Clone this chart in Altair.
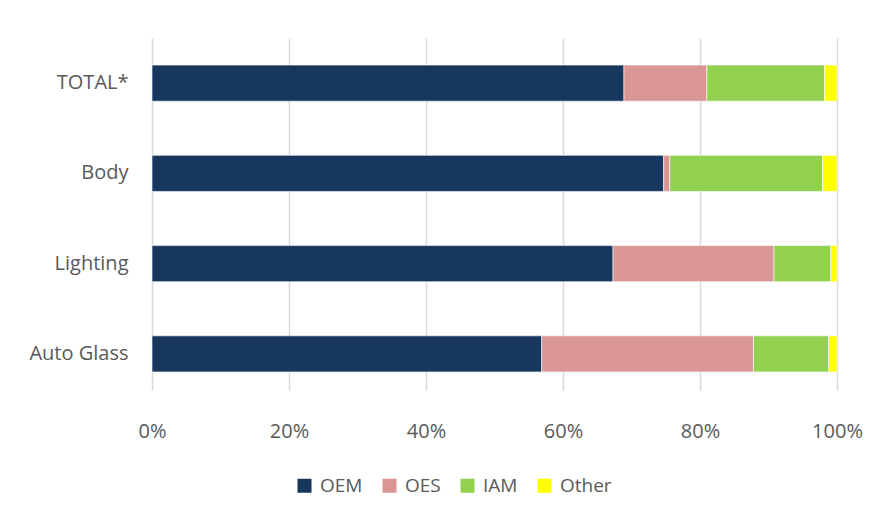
import altair as alt
import pandas as pd

categories = ["TOTAL*", "Body", "Lighting", "Auto Glass"]
series = ["OEM", "OES", "IAM", "Other"]
oem = [68.9, 74.7, 67.3, 56.9]
oes = [12.1, 0.9, 23.5, 30.9]
iam = [17.2, 22.3, 8.3, 11.0]
other = [1.8, 2.1, 0.9, 1.2]
colors = ["#17375E", "#D99694", "#92D050", "#FFFF00"]

rows = []
for i, c in enumerate(categories):
    for j, (s, vals) in enumerate(zip(series, [oem, oes, iam, other])):
        rows.append({"cat": c, "series": s, "value": vals[i] / 100.0, "ord": j})
df = pd.DataFrame(rows)

FONT = "Open Sans"
FS = 20

chart = alt.Chart(df).mark_bar(stroke="white", strokeWidth=0.6).encode(
    y=alt.Y("cat:N", sort=categories, title=None,
            scale=alt.Scale(paddingInner=0.6, paddingOuter=0.25, align=0.6),
            axis=alt.Axis(domain=False, ticks=False, grid=False, labelPadding=24,
                          labelFontSize=FS, labelColor="#595959", labelFont=FONT)),
    x=alt.X("value:Q", stack="zero", title=None,
            scale=alt.Scale(domain=[0, 1], nice=False),
            axis=alt.Axis(format=".0%", values=[0, 0.2, 0.4, 0.6, 0.8, 1.0],
                          domain=False, ticks=False, grid=True, gridColor="#D9D9D9",
                          gridWidth=1.5, labelPadding=31, labelFontSize=FS,
                          labelFlush=False,
                          labelColor="#595959", labelFont=FONT)),
    color=alt.Color("series:N", sort=series,
                    scale=alt.Scale(domain=series, range=colors),
                    legend=alt.Legend(title=None, orient="none", direction="horizontal",
                                      legendX=143, legendY=438, symbolType="square",
                                      symbolSize=196, symbolStrokeWidth=0,
                                      labelFontSize=19, labelColor="#595959",
                                      labelFont=FONT, columnPadding=17, labelOffset=6)),
    order=alt.Order("ord:Q"),
).properties(
    width=685, height=352,
    autosize=alt.AutoSizeParams(type="none"),
    padding={"left": 144, "top": 30, "right": 34, "bottom": 118},
).configure(background="white").configure_view(stroke=None)

chart.save("out.html", embed_options={"renderer": "svg", "actions": False})
